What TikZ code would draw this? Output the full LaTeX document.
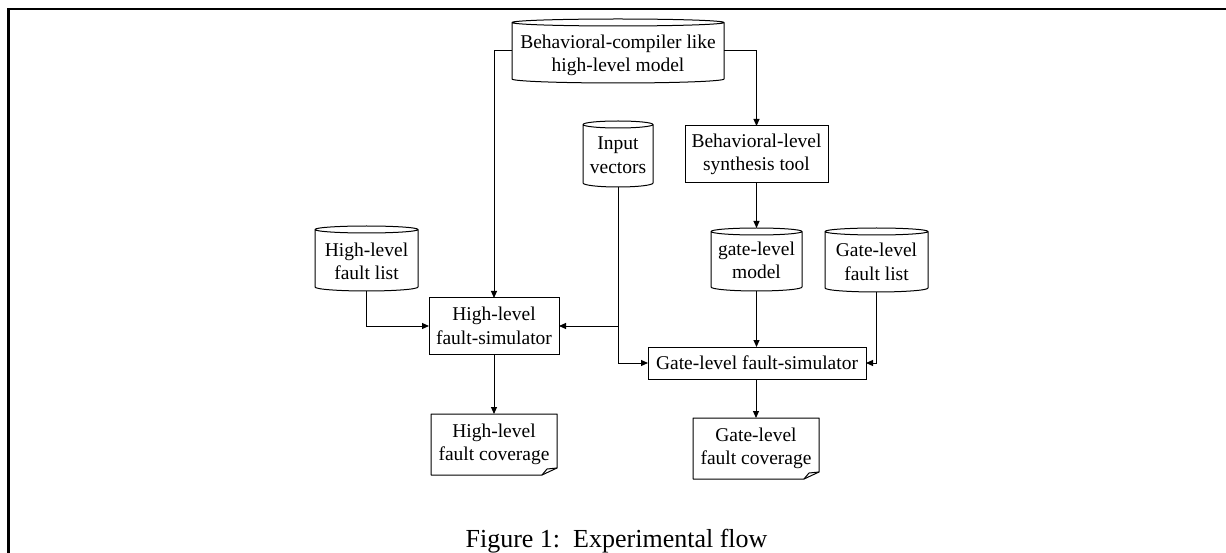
\documentclass[tikz,border=0pt]{standalone}
\usepackage{fontspec}
\setmainfont{Liberation Serif}
\usetikzlibrary{arrows.meta,calc}
\newcommand{\dgmfont}{\fontsize{19.5}{23.5}\selectfont}
\newcommand{\dbdraw}[1]{%
  \draw[shapeline] let \p1=(#1.north west), \p2=(#1.south east), \p3=(#1.north), \n1={(\x2-\x1)/2} in
    (\x1,\y1-3.5pt) -- (\x1,\y2+4pt) arc[start angle=180,end angle=360,x radius=\n1,y radius=4pt] -- (\x2,\y1-3.5pt)
    (\x3,\y1-3.5pt) ellipse[x radius=\n1,y radius=3.5pt];}
\newcommand{\docdraw}[1]{%
  \draw[shapeline] (#1.north west) -- (#1.north east) -- ([yshift=7pt]#1.south east) -- ([xshift=-15pt]#1.south east) -- (#1.south west) -- cycle;
  \draw[shapeline] ([yshift=7pt]#1.south east) -- ([xshift=-10pt,yshift=6pt]#1.south east) -- ([xshift=-15pt]#1.south east);}
\begin{document}
\begin{tikzpicture}[x=1pt,y=-1pt,
  shapeline/.style={line width=1pt,line join=round},
  boxnode/.style={draw,line width=1pt,inner sep=0pt,outer sep=0pt,align=center,font=\dgmfont},
  plain/.style={inner sep=0pt,outer sep=0pt},
  txt/.style={inner sep=0pt,align=center,font=\dgmfont},
  conn/.style={line width=1pt,-{Triangle[length=7pt,width=6pt]}},
  line/.style={line width=1pt}]
\useasboundingbox (0,0) rectangle (1226,553);
% frame
\draw[line width=2.6pt,line join=miter] (8.3,553) -- (8.3,9) -- (1226,9);

% cylinders
\node[plain,minimum width=212pt,minimum height=64pt] (top) at (618,51) {};
\dbdraw{top}
\node[txt] (topT) at ([yshift=-4.5pt]top.center) {Behavioral-compiler like\\high-level model};

\node[plain,minimum width=70pt,minimum height=66pt] (inp) at (618,154) {};
\dbdraw{inp}
\node[txt] (inpT) at ([yshift=-1pt]inp.center) {Input\\vectors};

\node[plain,minimum width=103pt,minimum height=65pt] (hll) at (366.5,258.5) {};
\dbdraw{hll}
\node[txt] (hllT) at ([yshift=-3pt]hll.center) {High-level\\fault list};

\node[plain,minimum width=91pt,minimum height=63pt] (glm) at (756.5,259.5) {};
\dbdraw{glm}
\node[txt] (glmT) at ([yshift=-1pt]glm.center) {gate-level\\model};

\node[plain,minimum width=103pt,minimum height=64pt] (gll) at (876.5,260) {};
\dbdraw{gll}
\node[txt] (gllT) at ([yshift=-2pt]gll.center) {Gate-level\\fault list};

% boxes
\node[boxnode,minimum width=143pt,minimum height=57pt] (syn) at (756.5,154.5) {Behavioral-level\\synthesis tool};
\node[boxnode,minimum width=130pt,minimum height=56pt] (hls) at (494,326) {High-level\\fault-simulator};
\node[boxnode,minimum width=218pt,minimum height=32pt] (gls) at (757,363) {Gate-level fault-simulator};

% documents
\node[plain,minimum width=126pt,minimum height=61pt] (hlc) at (494,444.5) {};
\docdraw{hlc}
\node[txt] (hlcT) at (hlc.center) {High-level\\fault coverage};
\node[plain,minimum width=126pt,minimum height=61pt] (glc) at (756,448.5) {};
\docdraw{glc}
\node[txt] (glcT) at (glc.center) {Gate-level\\fault coverage};

% connectors
\draw[conn] (top.west) -| (hls.north);
\draw[conn] (top.east) -| (syn.north);
\draw[conn] (syn.south) -- (glm.north);
\draw[conn] (inp.south) |- (gls.west);
\draw[conn] (inp.south |- hls.east) -- (hls.east);
\draw[conn] (hll.south) |- (hls.west);
\draw[conn] (glm.south) -- (gls.north -| glm.south);
\draw[conn] (gll.south) |- (gls.east);
\draw[conn] (hls.south) -- (hlc.north);
\draw[conn] (gls.south -| glc.north) -- (glc.north);

% caption
\node[anchor=base,inner sep=0pt,font=\fontsize{26}{30}\selectfont] (cap) at (616.5,547) {Figure 1:\ \ Experimental flow};
\end{tikzpicture}
\end{document}
